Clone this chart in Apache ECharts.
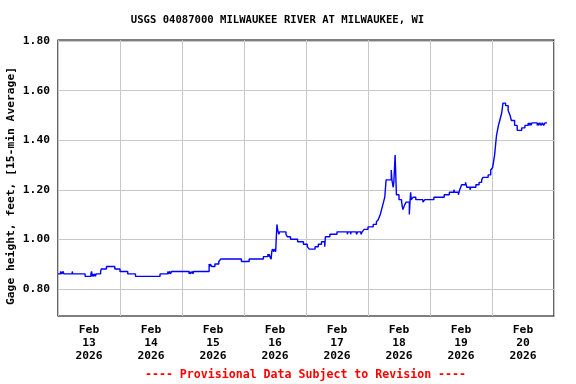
<!DOCTYPE html>
<html>
<head>
<meta charset="utf-8">
<script src="https://cdn.jsdelivr.net/npm/echarts@6/dist/echarts.min.js"></script>
<style>html,body{margin:0;padding:0;background:#fff}#c{width:576px;height:384px}</style>
</head>
<body>
<div id="c"></div>
<script>
// Hours since Feb 13 2026 00:00 at which the gage height changes
const hours = [0,1,1.5,2,2.25,5.5,5.75,10.5,12.75,13,13.25,13.5,13.75,14.25,14.5,14.75,
16.5,16.75,18.75,22,24,27,30,39.5,42.5,42.75,43.25,43.5,44,50.75,51,51.25,52,52.25,52.5,
58.5,58.75,59,59.5,60.75,62.25,63,71,74,79.5,81.25,81.5,81.75,82,82.5,82.75,83,83.5,83.75,84.25,
84.75,85,85.5,85.75,88.25,88.75,90,92.75,95,96.5,97.25,99.5,100.75,102,103.25,103.5,105.25,108,
112,112.25,113.25,113.5,115.5,116,117.25,117.75,118.5,120,122,123.25,124,124.75,125.25,125.75,126.5,127,
129,129.25,129.75,130,130.5,130.75,131,132,133,133.5,134.25,134.75,136,136.25,136.5,136.75,137.5,138.5,141.25,142,
145.5,149.5,151.5,153.25,153.5,155,155.5,156.25,157.75,158.25,159.5,159.75,161.75,163,164,164.5,166.5,167.5,168.25,169,169.75,170.5,171,171.75,172.25,
173.25,174.25,175,175.5,176.75,177.75,179.5,180.75,182,182.25,182.75,183,183.5,185.5,185.75,186,186.5,187,187.5,188,188.5,189.25];
// Gage height, feet
const gage = [0.86,0.87,0.86,0.87,0.86,0.87,0.86,0.85,0.86,0.87,0.85,0.86,0.85,0.86,0.85,0.86,
0.87,0.88,0.89,0.88,0.87,0.86,0.85,0.86,0.87,0.86,0.87,0.86,0.87,0.86,0.87,0.86,0.87,0.86,0.87,
0.90,0.89,0.90,0.89,0.90,0.91,0.92,0.91,0.92,0.93,0.94,0.93,0.94,0.93,0.92,0.95,0.96,0.95,0.96,0.95,
1.06,1.04,1.02,1.03,1.02,1.01,1.00,0.99,0.98,0.97,0.96,0.97,0.98,0.99,0.97,1.01,1.02,1.03,
1.02,1.03,1.02,1.03,1.02,1.03,1.02,1.03,1.04,1.05,1.06,1.07,1.08,1.10,1.12,1.14,1.17,1.24,
1.28,1.24,1.21,1.23,1.34,1.26,1.18,1.16,1.15,1.12,1.14,1.15,1.10,1.15,1.19,1.16,1.17,1.16,1.15,1.16,
1.17,1.18,1.19,1.20,1.19,1.18,1.20,1.22,1.23,1.21,1.20,1.21,1.22,1.23,1.24,1.25,1.26,1.28,1.29,1.34,1.42,1.46,1.48,1.51,1.55,
1.54,1.52,1.50,1.48,1.46,1.44,1.45,1.46,1.47,1.46,1.47,1.46,1.47,1.46,1.47,1.46,1.47,1.46,1.47,1.46,1.47,1.47];
const dayLabels = ['Feb\n13\n2026','Feb\n14\n2026','Feb\n15\n2026','Feb\n16\n2026','Feb\n17\n2026','Feb\n18\n2026','Feb\n19\n2026','Feb\n20\n2026'];
const yTicks = [0.8,1.0,1.2,1.4,1.6,1.8];
const titleText = 'USGS 04087000 MILWAUKEE RIVER AT MILWAUKEE, WI';
const yName = 'Gage height, feet, [15-min Average]';
const caption = '---- Provisional Data Subject to Revision ----';

const FONT = '"DejaVu Sans Mono", "Liberation Mono", monospace';
const chart = echarts.init(document.getElementById('c'), null, {renderer: 'canvas'});
chart.setOption({
  animation: false,
  backgroundColor: '#fff',
  grid: {left: 58, right: 22, top: 40, bottom: 68, show: true, borderColor: '#000', borderWidth: 1.2, backgroundColor: 'transparent'},
  xAxis: {
    type: 'value', min: 0, max: 192, interval: 24,
    axisLine: {show: false}, axisTick: {show: false},
    splitLine: {show: true, lineStyle: {color: '#c8c8c8', width: 1}},
    axisLabel: {
      customValues: dayLabels.map((d, i) => 12 + 24 * i),
      formatter: v => dayLabels[Math.round((v - 12) / 24)],
      fontFamily: FONT, fontWeight: 'bold', fontSize: 11.3, color: '#000', lineHeight: 12.8, margin: 8
    }
  },
  yAxis: {
    type: 'value', min: 0.69, max: 1.805,
    axisLine: {show: false},
    axisTick: {show: false, customValues: yTicks},
    splitLine: {show: true, lineStyle: {color: '#c8c8c8', width: 1}},
    axisLabel: {customValues: yTicks, formatter: v => v.toFixed(2), fontFamily: FONT, fontWeight: 'bold', fontSize: 11.3, color: '#000', margin: 8}
  },
  series: [{
    type: 'line', step: 'end', showSymbol: false,
    data: hours.map((h, i) => [h, gage[i]]),
    lineStyle: {color: '#0000ff', width: 1.4}
  }],
  graphic: [
    {type: 'text', x: 277.5, y: 20, style: {text: titleText, fontFamily: FONT, fontWeight: 'bold', fontSize: 10.6, fill: '#000', textAlign: 'center', textVerticalAlign: 'middle'}},
    {type: 'text', x: 11, y: 186, rotation: Math.PI / 2, style: {text: yName, fontFamily: FONT, fontWeight: 'bold', fontSize: 11.3, fill: '#000', textAlign: 'center', textVerticalAlign: 'middle'}},
    {type: 'text', x: 305.5, y: 375, style: {text: caption, fontFamily: FONT, fontWeight: 'bold', fontSize: 11.6, fill: '#ff0000', textAlign: 'center', textVerticalAlign: 'middle'}}
  ]
});
</script>
</body>
</html>
